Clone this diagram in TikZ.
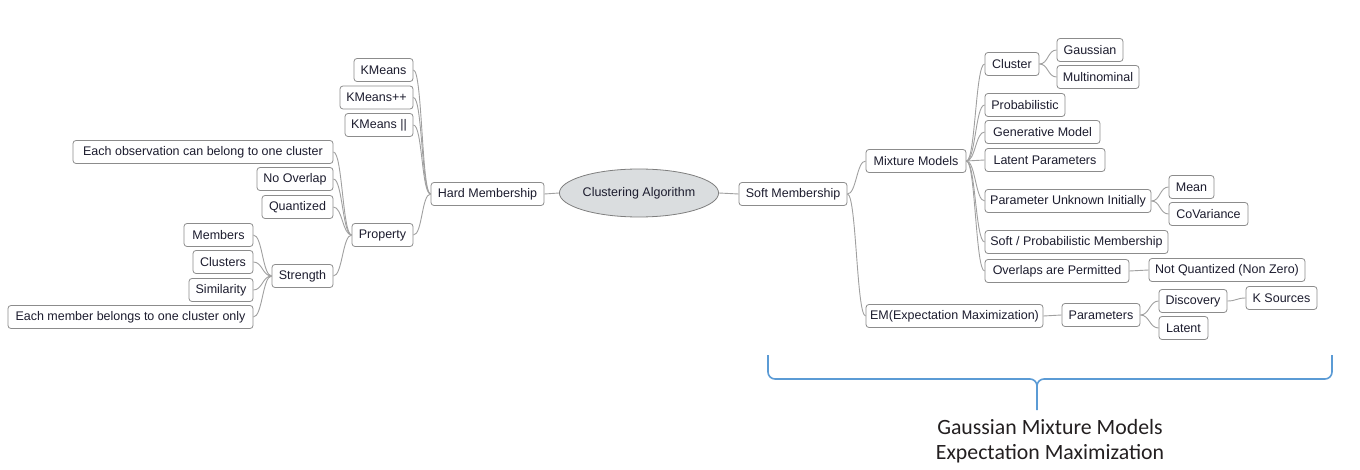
\documentclass[tikz,border=0pt]{standalone}
\usepackage{fontspec}
\setmainfont{Liberation Sans}
\newfontfamily\calib{Carlito}
\usetikzlibrary{shapes.geometric}
\definecolor{boxgray}{HTML}{8C8C8C}
\definecolor{linegray}{HTML}{A0A0A0}
\definecolor{txt}{HTML}{1C1C2E}
\definecolor{bracecol}{HTML}{5B9BD5}
\definecolor{ellfill}{HTML}{DADDDF}
\definecolor{captxt}{HTML}{231F20}
\newcommand{\mbranch}[2]{\draw[conn] (#1.east) .. controls +(9,0) and +(-9,0) .. (#2.west);}
\tikzset{
  box/.style={draw=boxgray, fill=white, rounded corners=3pt, line width=0.8pt,
    minimum height=23pt, inner sep=0pt, text=txt, font=\fontsize{12.5}{14}\selectfont},
  conn/.style={draw=linegray, line width=0.9pt},
  bracestyle/.style={draw=bracecol, line width=1.6pt},
}
\begin{document}
\begin{tikzpicture}[x=1pt,y=-1pt]
\useasboundingbox (0,0) rectangle (1360,470);
% centre
\node[ellipse, draw=boxgray!90!black, fill=ellfill, line width=0.8pt, minimum width=134pt, minimum height=48pt, inner sep=0pt, text=txt, font=\fontsize{12.5}{14}\selectfont] (root) at (639,193) {Clustering Algorithm};
% left side
\node[box, minimum width=113pt] (hard) at (487.5,194) {Hard Membership};
\node[box, minimum width=59pt] (km) at (383.5,70) {KMeans};
\node[box, minimum width=73pt] (kmpp) at (376.5,97.5) {KMeans++};
\node[box, minimum width=68pt] (kmpar) at (379,125) {KMeans ||};
\node[box, minimum width=61pt] (prop) at (382.5,235) {Property};
\node[box, minimum width=260pt] (eachobs) at (203,152) {Each observation can belong to one cluster};
\node[box, minimum width=76pt] (noov) at (295,179) {No Overlap};
\node[box, minimum width=71pt] (quant) at (297.5,207) {Quantized};
\node[box, minimum width=61pt] (strength) at (302.5,276) {Strength};
\node[box, minimum width=69pt] (members) at (218.5,235) {Members};
\node[box, minimum width=60pt] (clusters) at (223,262) {Clusters};
\node[box, minimum width=64pt] (simil) at (221,290) {Similarity};
\node[box, minimum width=245pt] (eachmem) at (130.5,317) {Each member belongs to one cluster only};
% right side
\node[box, minimum width=108pt] (soft) at (793,194) {Soft Membership};
\node[box, minimum width=100pt] (mix) at (916,161) {Mixture Models};
\node[box, minimum width=177pt] (em) at (954.5,316) {EM(Expectation Maximization)};
\node[box, minimum width=54pt] (clus) at (1012,64) {Cluster};
\node[box, minimum width=66pt] (gauss) at (1090,50) {Gaussian};
\node[box, minimum width=82pt] (multi) at (1098,77) {Multinominal};
\node[box, minimum width=80pt] (prob) at (1025,105) {Probabilistic};
\node[box, minimum width=115pt] (gen) at (1042.5,132) {Generative Model};
\node[box, minimum width=120pt] (latp) at (1045,160) {Latent Parameters};
\node[box, minimum width=166pt] (punk) at (1068,201) {Parameter Unknown Initially};
\node[box, minimum width=45pt] (mean) at (1191.5,187) {Mean};
\node[box, minimum width=79pt] (cov) at (1208.5,214) {CoVariance};
\node[box, minimum width=183pt] (softp) at (1076.5,242) {Soft / Probabilistic Membership};
\node[box, minimum width=144pt] (overl) at (1057,271) {Overlaps are Permitted};
\node[box, minimum width=156pt] (notq) at (1227,270) {Not Quantized (Non Zero)};
\node[box, minimum width=78pt] (params) at (1101,315) {Parameters};
\node[box, minimum width=68pt] (disc) at (1193,301) {Discovery};
\node[box, minimum width=71pt] (ksrc) at (1281.5,298) {K Sources};
\node[box, minimum width=49pt] (latent) at (1183.5,328) {Latent};
% connectors
\draw[conn] (hard.east) -- (root.west);
\draw[conn] (root.east) -- (soft.west);
\mbranch{km}{hard}
\mbranch{kmpp}{hard}
\mbranch{kmpar}{hard}
\mbranch{prop}{hard}
\mbranch{eachobs}{prop}
\mbranch{noov}{prop}
\mbranch{quant}{prop}
\mbranch{strength}{prop}
\mbranch{members}{strength}
\mbranch{clusters}{strength}
\mbranch{simil}{strength}
\mbranch{eachmem}{strength}
\mbranch{soft}{mix}
\mbranch{soft}{em}
\mbranch{mix}{clus}
\mbranch{mix}{prob}
\mbranch{mix}{gen}
\mbranch{mix}{latp}
\mbranch{mix}{punk}
\mbranch{mix}{softp}
\mbranch{mix}{overl}
\mbranch{clus}{gauss}
\mbranch{clus}{multi}
\mbranch{punk}{mean}
\mbranch{punk}{cov}
\mbranch{overl}{notq}
\mbranch{em}{params}
\mbranch{params}{disc}
\mbranch{params}{latent}
\mbranch{disc}{ksrc}
% brace
\draw[bracestyle] (768,355) -- (768,372) to[out=-90,in=180] (775,379) -- (1030,379) to[out=0,in=90] (1037,386) -- (1037,410);
\draw[bracestyle] (1037,386) to[out=90,in=180] (1044,379) -- (1325,379) to[out=0,in=-90] (1332,372) -- (1332,355);
\node[align=center, text=captxt, font=\calib\fontsize{21.8}{25}\selectfont, inner sep=0pt] (cap) at (1050,441) {Gaussian Mixture Models\\Expectation Maximization};
\end{tikzpicture}
\end{document}
